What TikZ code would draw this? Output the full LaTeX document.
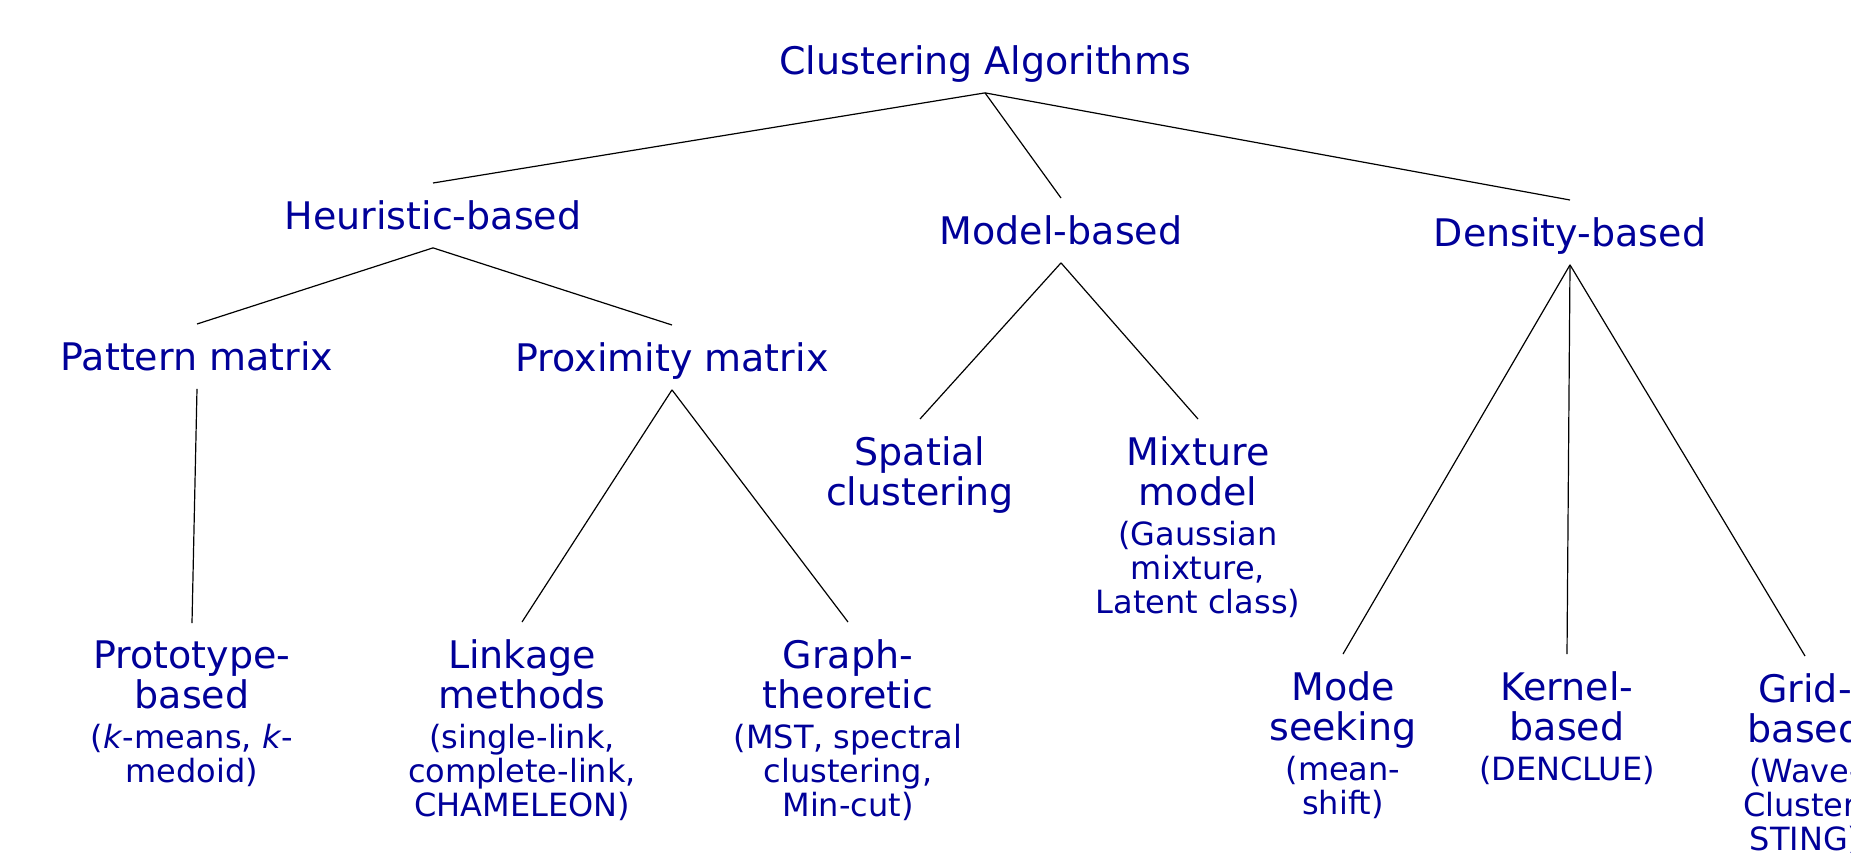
\documentclass[tikz,border=0pt]{standalone}
\usepackage{fontspec}
\setmainfont{DejaVu Sans}
\usepackage{tikz}
\usetikzlibrary{positioning}
\usepackage{xcolor}
\definecolor{labelblue}{RGB}{0,0,153}
\newcommand{\detail}{\fontsize{16}{17}\selectfont}

\begin{document}
\begin{tikzpicture}[x=0.5pt, y=-0.5pt,
    cat/.style={text=labelblue, font=\fontsize{19}{20}\selectfont, inner sep=0pt, outer xsep=0pt, outer ysep=9pt, text depth=0pt, anchor=north},
    leaf/.style={text=labelblue, font=\fontsize{19}{20}\selectfont, align=center, inner sep=0pt, outer xsep=0pt, outer ysep=9pt, anchor=north},
    branch/.style={draw=black, line width=0.6pt}]
        % Page
        \useasboundingbox (0,0) rectangle (1851,852);
        \clip (0,0) rectangle (1851,852);

        % Root
        \node[cat] (root) at (985, 28) {Clustering Algorithms};

        % Level 1
        \node[cat] (heur) at (433, 183) {Heuristic-based};
        \node[cat] (model) at (1061, 198) {Model-based};
        \node[cat] (density) at (1570, 200) {Density-based};

        % Level 2
        \node[cat] (pattern) at (197, 324) {Pattern matrix};
        \node[cat] (proximity) at (672, 325) {Proximity matrix};
        \node[leaf] (spatial) at (920, 419) {Spatial\\clustering};
        \node[leaf] (mixture) at (1198, 419) {Mixture\\model\\{\detail (Gaussian}\\[-3pt]{\detail mixture,}\\[-3pt]{\detail Latent class)}};

        % Level 3
        \node[leaf] (proto) at (192, 623) {Prototype-\\based\\{\detail (\textit{k}-means, \textit{k}-}\\[-3pt]{\detail medoid)}};
        \node[leaf] (linkage) at (522, 622) {Linkage\\methods\\{\detail (single-link,}\\[-3pt]{\detail complete-link,}\\[-3pt]{\detail CHAMELEON)}};
        \node[leaf] (graph) at (848, 622) {Graph-\\theoretic\\{\detail (MST, spectral}\\[-3pt]{\detail clustering,}\\[-3pt]{\detail Min-cut)}};
        \node[leaf] (mode) at (1343, 654) {Mode\\seeking\\{\detail (mean-}\\[-3pt]{\detail shift)}};
        \node[leaf] (kernel) at (1567, 654) {Kernel-\\based\\{\detail (DENCLUE)}};
        \node[leaf] (grid) at (1805, 656) {Grid-\\based\\{\detail (Wave-}\\[-3pt]{\detail Cluster,}\\[-3pt]{\detail STING)}};

        % Branches
        \draw[branch] (root.south) -- (heur.north);
        \draw[branch] (root.south) -- (model.north);
        \draw[branch] (root.south) -- (density.north);
        \draw[branch] (heur.south) -- (pattern.north);
        \draw[branch] (heur.south) -- (proximity.north);
        \draw[branch] (model.south) -- (spatial.north);
        \draw[branch] (model.south) -- (mixture.north);
        \draw[branch] (pattern.south) -- (proto.north);
        \draw[branch] (proximity.south) -- (linkage.north);
        \draw[branch] (proximity.south) -- (graph.north);
        \draw[branch] (density.south) -- (mode.north);
        \draw[branch] (density.south) -- (kernel.north);
        \draw[branch] (density.south) -- (grid.north);

    \end{tikzpicture}
\end{document}
